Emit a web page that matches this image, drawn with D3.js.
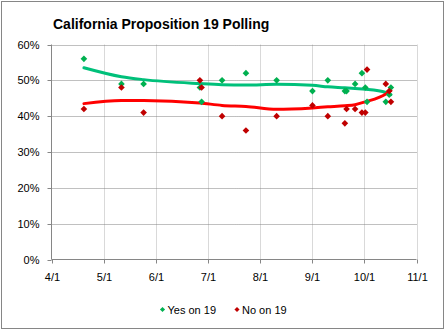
<!DOCTYPE html>
<html>
<head>
<meta charset="utf-8">
<script src="https://cdn.jsdelivr.net/npm/d3@7"></script>
<style>
  html, body { margin: 0; padding: 0; background: #fff; }
  svg { display: block; font-family: Arial, "Liberation Sans", sans-serif; }
</style>
</head>
<body>
<script>
// ---- data ----
const pollDates = ["2010-04-20","2010-05-12","2010-05-25","2010-06-27","2010-06-28","2010-07-10","2010-07-24","2010-08-11","2010-09-01","2010-09-10","2010-09-20","2010-09-21","2010-09-26","2010-09-30","2010-10-02","2010-10-03","2010-10-14","2010-10-16","2010-10-17"];
const yesValues = [56,49,49,48,44,50,52,50,47,50,47,47,49,52,48,44,44,46,48];
const noValues  = [42,48,41,50,48,40,36,40,43,40,38,42,42,41,41,53,49,47,44];

const trendDates = ["2010-04-20","2010-05-12","2010-05-25","2010-06-27","2010-07-10","2010-07-24","2010-08-11","2010-09-01","2010-09-10","2010-09-20","2010-09-26","2010-10-02","2010-10-14","2010-10-17"];
const yesTrend = [53.5,51.0,50.2,49.1,48.8,48.7,48.9,48.6,48.2,47.9,47.7,47.5,46.6,46.0];
const noTrend  = [43.5,44.4,44.4,43.7,43.0,42.7,41.9,42.3,42.6,42.9,43.2,44.0,46.2,47.2];

const xTickLabels = ["4/1","5/1","6/1","7/1","8/1","9/1","10/1","11/1"];
const yTicks = [0,10,20,30,40,50,60];
const title = "California Proposition 19 Polling";
const seriesNames = ["Yes on 19","No on 19"];

// ---- setup ----
const W = 446, H = 331;
const parse = d3.timeParse("%Y-%m-%d");
const startDate = parse("2010-04-01"), endDate = parse("2010-11-01");
const totalDays = d3.timeDay.count(startDate, endDate);
const dayOf = s => d3.timeDay.count(startDate, parse(s));

const pL = 51.5, pR = 416.5, pT = 44.5, pB = 259.5;
const x = d3.scaleLinear().domain([0, totalDays]).range([pL, pR]);
const y = d3.scaleLinear().domain([0, 60]).range([pB, pT]);
const xTickVals = xTickLabels.map((_, i) => i * totalDays / (xTickLabels.length - 1));

const svg = d3.select("body").append("svg").attr("width", W).attr("height", H);

svg.append("rect").attr("x", 1.5).attr("y", 1.5).attr("width", 442).attr("height", 327)
  .attr("fill", "#fff").attr("stroke", "#868686").attr("stroke-width", 1);

svg.append("text").attr("x", 53).attr("y", 29)
  .attr("font-size", 14).attr("font-weight", "bold").attr("fill", "#000").text(title);

// vertical gridlines
svg.append("g").selectAll("line").data(xTickVals.slice(1)).join("line")
  .attr("x1", d => Math.round(x(d)) + 0.5).attr("x2", d => Math.round(x(d)) + 0.5)
  .attr("y1", pT).attr("y2", pB)
  .attr("stroke", "#d9d9d9").attr("stroke-width", 1);

// horizontal dotted gridlines
svg.append("g").selectAll("line").data(yTicks.slice(1)).join("line")
  .attr("x1", pL).attr("x2", pR)
  .attr("y1", d => Math.round(y(d)) + 0.5).attr("y2", d => Math.round(y(d)) + 0.5)
  .attr("stroke", "#808080").attr("stroke-width", 1).attr("stroke-dasharray", "1,1");

// y axis
const yAxis = d3.axisLeft(y).tickValues(yTicks).tickFormat(d => d + "%").tickSize(4).tickPadding(8);
const gy = svg.append("g").attr("transform", `translate(${pL},0)`).call(yAxis);
gy.select(".domain").attr("stroke", "#868686").attr("d", `M0,${pT}V${pB}`);
gy.selectAll(".tick").attr("transform", d => `translate(0,${Math.round(y(d)) + 0.5})`);
gy.selectAll(".tick line").attr("stroke", "#868686");
gy.selectAll(".tick text").attr("font-size", 11).attr("fill", "#000").attr("font-family", null);

// x axis
const xAxis = d3.axisBottom(x).tickValues(xTickVals).tickFormat((d, i) => xTickLabels[i]).tickSize(4).tickPadding(10);
const gx = svg.append("g").attr("transform", `translate(0,${pB})`).call(xAxis);
gx.select(".domain").attr("stroke", "#868686").attr("d", `M${pL},0H${pR}`);
gx.selectAll(".tick").attr("transform", d => `translate(${Math.round(x(d)) + 0.5},0)`);
gx.selectAll(".tick line").attr("stroke", "#868686");
gx.selectAll(".tick text").attr("font-size", 11).attr("fill", "#000").attr("font-family", null);

// trend lines
const line = d3.line().x(d => x(dayOf(d[0]))).y(d => y(d[1])).curve(d3.curveMonotoneX);
svg.append("path").datum(d3.zip(trendDates, yesTrend)).attr("d", line)
  .attr("fill", "none").attr("stroke", "#00c07a").attr("stroke-width", 3).attr("stroke-linecap", "round");
svg.append("path").datum(d3.zip(trendDates, noTrend)).attr("d", line)
  .attr("fill", "none").attr("stroke", "#ff0000").attr("stroke-width", 3).attr("stroke-linecap", "round");

// markers
const diamond = d3.symbol().type(d3.symbolSquare).size(22);
function drawMarkers(vals, color) {
  svg.append("g").selectAll("path").data(d3.zip(pollDates, vals)).join("path")
    .attr("d", diamond)
    .attr("transform", d => `translate(${x(dayOf(d[0]))},${y(d[1])}) rotate(45)`)
    .attr("fill", color);
}
drawMarkers(yesValues, "#00b050");
drawMarkers(noValues, "#c00000");

// legend
const legendItems = [
  {name: seriesNames[0], color: "#00b050", mx: 162.5, tx: 167.5},
  {name: seriesNames[1], color: "#c00000", mx: 237, tx: 242}
];
const lg = svg.append("g");
legendItems.forEach(it => {
  lg.append("path").attr("d", d3.symbol().type(d3.symbolSquare).size(13))
    .attr("transform", `translate(${it.mx},309.5) rotate(45)`).attr("fill", it.color);
  lg.append("text").attr("x", it.tx).attr("y", 313.5).attr("font-size", 11).attr("fill", "#000").text(it.name);
});
</script>
</body>
</html>
